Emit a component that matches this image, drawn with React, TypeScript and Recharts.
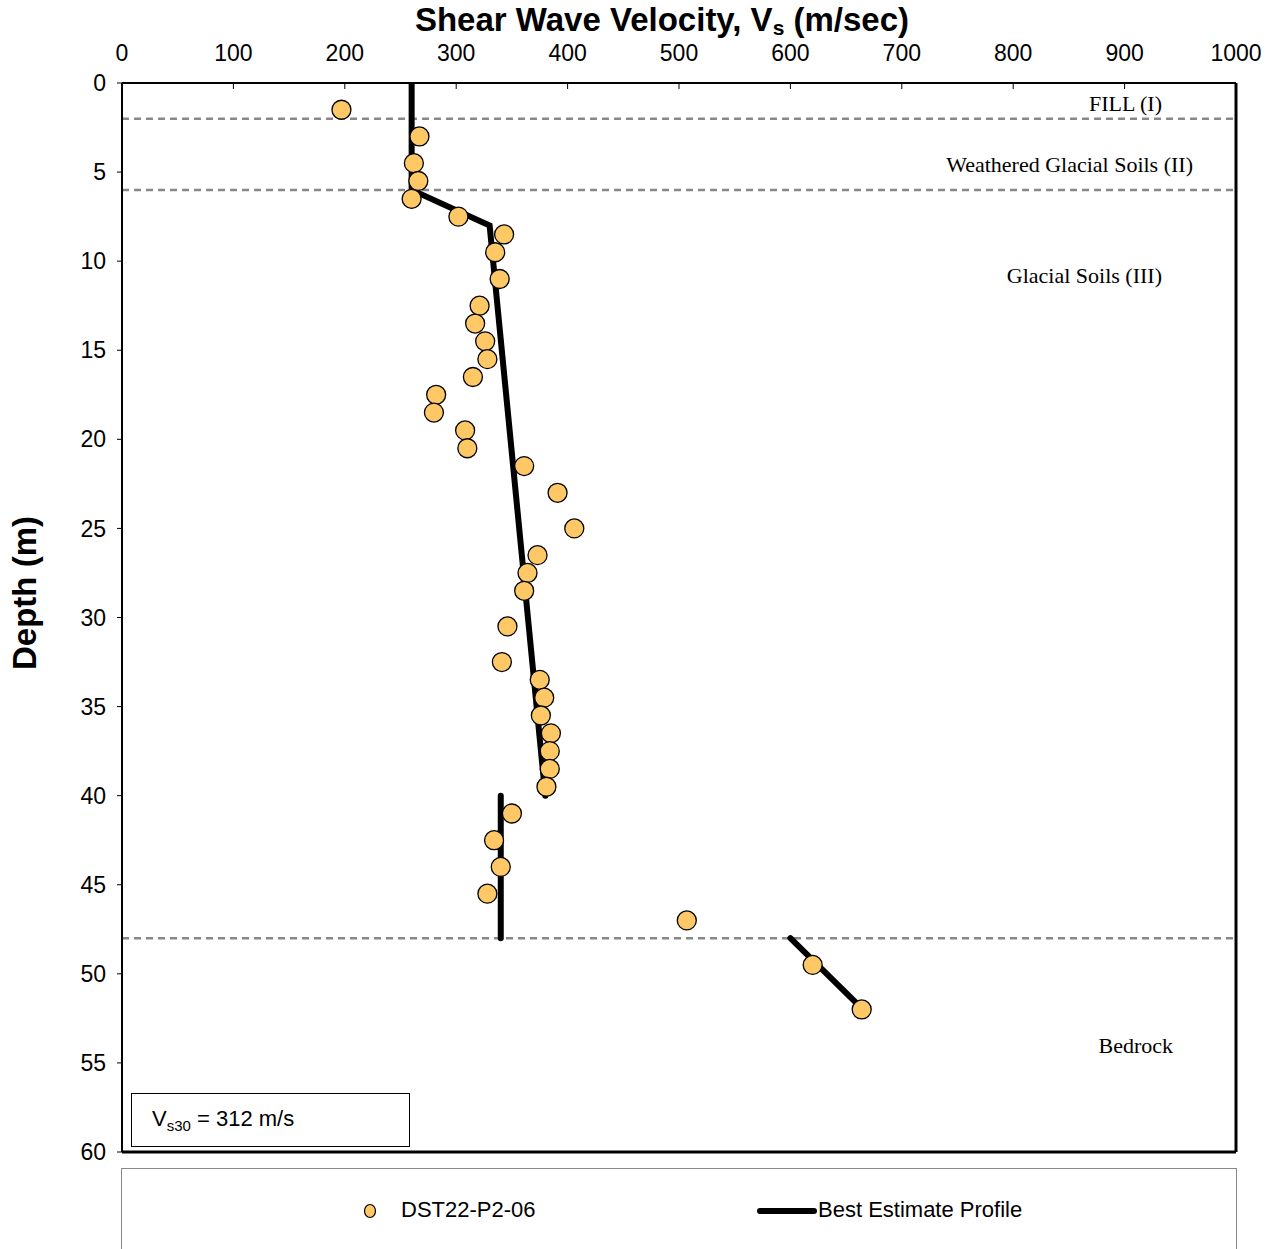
import {
    ScatterChart, Scatter, XAxis, YAxis, ReferenceLine,
} from "recharts";

// measured points (DST22-P2-06)
const measDepth = [1.5, 3, 4.5, 5.5, 6.5, 7.5, 8.5, 9.5, 11, 12.5, 13.5, 14.5, 15.5, 16.5, 17.5, 18.5, 19.5, 20.5, 21.5, 23, 25, 26.5, 27.5, 28.5, 30.5, 32.5, 33.5, 34.5, 35.5, 36.5, 37.5, 38.5, 39.5, 41, 42.5, 44, 45.5, 47, 49.5, 52];
const measVs = [197, 267, 262, 266, 260, 302, 343, 335, 339, 321, 317, 326, 328, 315, 282, 280, 308, 310, 361, 391, 406, 373, 364, 361, 346, 341, 375, 379, 376, 385, 384, 384, 381, 350, 334, 340, 328, 507, 620, 664];

// best estimate profile, three pieces
const upperDepth = [0, 6, 8, 40];
const upperVs = [260, 260, 330, 380];
const tillDepth = [40, 48];
const tillVs = [340, 340];
const rockDepth = [48, 52];
const rockVs = [600, 665];

const layerBounds = [2, 6, 48];
const xTicks = [0, 100, 200, 300, 400, 500, 600, 700, 800, 900, 1000];
const yTicks = [0, 5, 10, 15, 20, 25, 30, 35, 40, 45, 50, 55, 60];

const toPts = (d: number[], v: number[]) => d.map((depth, i) => ({ vs: v[i], depth }));

const measured = toPts(measDepth, measVs);
const upper = toPts(upperDepth, upperVs);
const till = toPts(tillDepth, tillVs);
const rock = toPts(rockDepth, rockVs);

const SANS = "'Liberation Sans', Arial, sans-serif";
const SERIF = "'Liberation Serif', 'Times New Roman', serif";
const FILL = "#FEC866";

const TopTick = (p: any) => (
    <text x={p.x} y={61} textAnchor="middle" fontSize={23} fontFamily={SANS} fill="#000">
        {p.payload.value}
    </text>
);

const Dot = (p: any) => (
    <circle cx={p.cx} cy={p.cy} r={9.5} fill={FILL} stroke="#000" strokeWidth={1.3} />
);

const NoDot = () => <g />;

const lineStyle = { stroke: "#000", strokeWidth: 6, strokeLinecap: "round" as const };

function Note({ text, right, top }: { text: string; right: number; top: number }) {
    return (
        <div style={{
            position: "absolute", right, top, fontFamily: SERIF, fontSize: 22,
            lineHeight: "24px", whiteSpace: "nowrap", color: "#000",
        }}>{text}</div>
    );
}

export default function App() {
    return (
        <div style={{ position: "absolute", left: 0, top: 0, width: 1274, height: 1249, background: "#fff" }}>
            <ScatterChart width={1274} height={1249} margin={{ top: 83, right: 38, bottom: 97, left: 60 }}>
                <XAxis
                    type="number" dataKey="vs" orientation="top" domain={[0, 1000]} ticks={xTicks}
                    mirror tick={TopTick} tickSize={6} tickLine={{ stroke: "#000" }}
                    axisLine={{ stroke: "#000", strokeWidth: 2 }} allowDataOverflow
                />
                <YAxis
                    type="number" dataKey="depth" reversed domain={[0, 60]} ticks={yTicks} width={62}
                    tick={{ fontSize: 23, fontFamily: SANS, fill: "#000" }} tickSize={5} tickMargin={11}
                    tickLine={{ stroke: "#000" }} axisLine={{ stroke: "#000", strokeWidth: 2 }} allowDataOverflow
                />
                {layerBounds.map((d) => (
                    <ReferenceLine key={d} y={d} stroke="#888" strokeWidth={2.5} strokeDasharray="7 5" />
                ))}
                {/* plot frame, right and bottom */}
                <ReferenceLine x={1000} stroke="#000" strokeWidth={3} />
                <ReferenceLine y={60} stroke="#000" strokeWidth={3} />
                <Scatter data={upper} line={lineStyle} lineType="joint" shape={NoDot} isAnimationActive={false} />
                <Scatter data={till} line={lineStyle} lineType="joint" shape={NoDot} isAnimationActive={false} />
                <Scatter data={rock} line={lineStyle} lineType="joint" shape={NoDot} isAnimationActive={false} />
                <Scatter data={measured} shape={Dot} isAnimationActive={false} />
            </ScatterChart>

            <div style={{
                position: "absolute", left: 0, width: 1274, top: 3, textAlign: "center",
                paddingLeft: 50, boxSizing: "border-box",
                fontFamily: SANS, fontWeight: "bold", fontSize: 33, lineHeight: "34px",
            }}>
                Shear Wave Velocity, V<sub style={{ fontSize: 21, verticalAlign: "-4px", lineHeight: 0 }}>s</sub> (m/sec)
            </div>

            <div style={{
                position: "absolute", left: 25, top: 593, transform: "translate(-50%, -50%) rotate(-90deg)",
                fontFamily: SANS, fontWeight: "bold", fontSize: 33, whiteSpace: "nowrap",
            }}>Depth (m)</div>

            <Note text="FILL (I)" right={112} top={92} />
            <Note text="Weathered Glacial Soils (II)" right={81} top={153} />
            <Note text="Glacial Soils (III)" right={112} top={264} />
            <Note text="Bedrock" right={101} top={1034} />

            <div style={{
                position: "absolute", left: 131, top: 1093, width: 279, height: 54, boxSizing: "border-box",
                border: "1.5px solid #000", background: "#fff", fontFamily: SANS, fontSize: 22,
                paddingLeft: 20, paddingTop: 12, whiteSpace: "nowrap",
            }}>
                V<sub style={{ fontSize: 15 }}>s30</sub> = 312 m/s
            </div>

            <div style={{
                position: "absolute", left: 121, top: 1168, width: 1116, height: 100, boxSizing: "border-box",
                border: "1px solid #888", borderBottom: "none", fontFamily: SANS, fontSize: 22,
            }}>
                <svg style={{ position: "absolute", left: 240, top: 34 }} width={16} height={16}>
                    <ellipse cx={8} cy={8} rx={5.5} ry={6.5} fill={FILL} stroke="#000" strokeWidth={1.2} />
                </svg>
                <div style={{ position: "absolute", left: 279, top: 28 }}>DST22-P2-06</div>
                <svg style={{ position: "absolute", left: 634, top: 36 }} width={62} height={12}>
                    <line x1={4} y1={6} x2={58} y2={6} stroke="#000" strokeWidth={6} strokeLinecap="round" />
                </svg>
                <div style={{ position: "absolute", left: 696, top: 28 }}>Best Estimate Profile</div>
            </div>
        </div>
    );
}
